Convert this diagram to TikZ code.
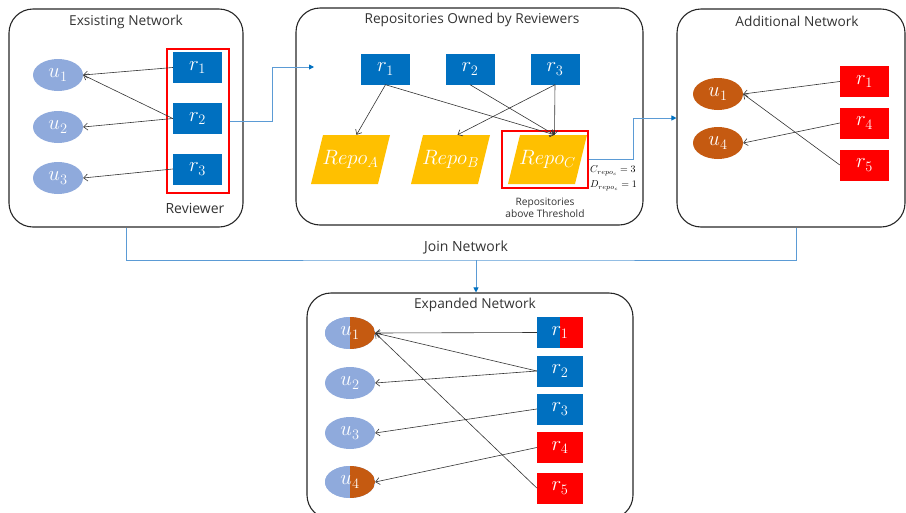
\documentclass[tikz,border=0pt]{standalone}
\usepackage{fontspec}
\setmainfont{Open Sans}
\usetikzlibrary{arrows.meta,shapes.geometric,calc}
\definecolor{rblue}{HTML}{0070C0}
\definecolor{ublue}{HTML}{8FAADC}
\definecolor{ubrown}{HTML}{C55A11}
\definecolor{rred}{HTML}{FF0000}
\definecolor{gold}{HTML}{FFC000}
\definecolor{flowblue}{HTML}{5B9BD5}
\begin{document}
\begin{tikzpicture}[x=1pt,y=-1pt,
  panel/.style={draw=black!85, line width=1.1pt, rounded corners=24pt, inner sep=0},
  ptitle/.style={font=\fontsize{13.7}{16}\selectfont, text=black!80},
  caption/.style={font=\fontsize{14}{16}\selectfont, text=black!80, align=center},
  mlabel/.style={text=white, font=\fontsize{19.5}{22}\selectfont},
  user/.style={ellipse, fill=ublue, minimum width=50, minimum height=32, inner sep=0, mlabel},
  buser/.style={user, fill=ubrown},
  rev/.style={rectangle, fill=rblue, minimum width=49, minimum height=31, inner sep=0, mlabel},
  redrev/.style={rev, fill=rred},
  half/.style 2 args={path picture={
      \fill[#1] (path picture bounding box.south west) rectangle (path picture bounding box.north);
      \fill[#2] (path picture bounding box.south) rectangle (path picture bounding box.north east);}},
  repo/.style={rectangle, minimum width=79, minimum height=49, inner sep=0, mlabel,
      font=\fontsize{20}{22}\selectfont,
      path picture={\fill[gold] (path picture bounding box.south west)
        -- ($(path picture bounding box.south east)+(-12,0)$)
        -- (path picture bounding box.north east)
        -- ($(path picture bounding box.north west)+(12,0)$) -- cycle;}},
  redframe/.style={draw=rred, line width=1.1pt, inner sep=0},
  arr/.style={draw=black!80, line width=0.6pt, -{Straight Barb[length=4pt,width=7pt]}},
  flowline/.style={draw=flowblue, line width=0.9pt},
  flow/.style={flowline, -{Triangle[length=5pt,width=5pt,fill=rblue,color=rblue]}}
]
\useasboundingbox (0,0) rectangle (906,512);

% ---------- Existing network ----------
\node[panel, minimum width=234, minimum height=218] (exbox) at (126,118) {};
\node[ptitle] (t1) at (126,22) {Exsisting Network};
\node[user] (eu1) at (58,75) {$u_1$};
\node[user] (eu2) at (58,127) {$u_2$};
\node[user] (eu3) at (58,178) {$u_3$};
\node[rev] (er1) at (197.5,67.5) {$r_1$};
\node[rev] (er2) at (197.5,118.5) {$r_2$};
\node[rev] (er3) at (197.5,169) {$r_3$};
\node[redframe, minimum width=62, minimum height=144] (revframe) at (198,121) {};
\node[caption] (revlbl) at (195,208) {Reviewer};
\draw[arr] (er1.west) -- (eu1.east);
\draw[arr] (er2.west) -- (eu1.east);
\draw[arr] (er2.west) -- (eu2.east);
\draw[arr] (er3.west) -- (eu3.east);

% ---------- Repositories owned by reviewers ----------
\node[panel, minimum width=347, minimum height=217] (repobox) at (469.5,116.5) {};
\node[ptitle] (t2) at (472,20) {Repositories Owned by Reviewers};
\node[rev] (mr1) at (385.5,69) {$r_1$};
\node[rev] (mr2) at (470,69) {$r_2$};
\node[rev] (mr3) at (555,69) {$r_3$};
\node[repo] (ra) at (350.5,159.5) {$Repo_A$};
\node[repo] (rb) at (450.5,159.5) {$Repo_B$};
\node[repo] (rc) at (547.5,159.5) {$Repo_C$};
\node[redframe, minimum width=86, minimum height=57] (cframe) at (545,159.5) {};
\draw[arr] (mr1.south) -- ($(ra.north)+(6,0)$);
\draw[arr] (mr1.south) -- ($(rc.north)+(7,0)$);
\draw[arr] (mr2.south) -- ($(rc.north)+(7,0)$);
\draw[arr] (mr3.south) -- ($(rb.north)+(7,0)$);
\draw[arr] (mr3.south) -- ($(rc.north)+(7,0)$);
\node[font=\fontsize{10}{11}\selectfont, anchor=west, inner sep=0] (cval) at (590,171) {$C_{repo_c}=3$};
\node[font=\fontsize{10}{11}\selectfont, anchor=west, inner sep=0] (dval) at (590,186) {$D_{repo_c}=1$};
\node[caption, font=\fontsize{10.2}{12}\selectfont] (thr) at (545,208) {Repositories\\above Threshold};

% ---------- Additional network ----------
\node[panel, minimum width=228, minimum height=218] (addbox) at (791,118) {};
\node[ptitle] (t3) at (797,21) {Additional Network};
\node[buser] (au1) at (718,94) {$u_1$};
\node[buser] (au4) at (718,143) {$u_4$};
\node[redrev] (ar1) at (864.5,81.5) {$r_1$};
\node[redrev] (ar4) at (864.5,123) {$r_4$};
\node[redrev] (ar5) at (864.5,165) {$r_5$};
\draw[arr] (ar1.west) -- (au1.east);
\draw[arr] (ar4.west) -- (au4.east);
\draw[arr] (ar5.west) -- (au1.east);

% ---------- Expanded network ----------
\node[panel, minimum width=326, minimum height=226] (expbox) at (470,406) {};
\node[ptitle] (t4) at (475,305) {Expanded Network};
\node[user, half={ublue}{ubrown}] (xu1) at (350,333) {$u_1$};
\node[user] (xu2) at (350,383) {$u_2$};
\node[user] (xu3) at (350,433) {$u_3$};
\node[user, half={ublue}{ubrown}] (xu4) at (350,482) {$u_4$};
\node[rev, minimum width=46, half={rblue}{rred}] (xr1) at (560,332.5) {$r_1$};
\node[rev, minimum width=46] (xr2) at (560,371) {$r_2$};
\node[rev, minimum width=46] (xr3) at (560,409) {$r_3$};
\node[redrev, minimum width=46] (xr4) at (560,447.5) {$r_4$};
\node[redrev, minimum width=46] (xr5) at (560,488) {$r_5$};
\draw[arr] (xr1.west) -- (xu1.east);
\draw[arr] (xr2.west) -- (xu1.east);
\draw[arr] (xr2.west) -- (xu2.east);
\draw[arr] (xr3.west) -- (xu3.east);
\draw[arr] (xr4.west) -- (xu4.east);
\draw[arr] (xr5.west) -- (xu1.east);

% ---------- Flow between panels ----------
\coordinate (reviewin) at (314,67);
\draw[flow] (revframe.east) -- ++(43,0) |- (reviewin);
\draw[flow] (cframe.east) -- ++(45,0) |- (addbox.west);
\coordinate (join) at (476,260);
\draw[flowline] (exbox.south) |- (join) -| ($(addbox.south)+(5,0)$);
\draw[flow] (join) -- (join |- expbox.north);
\node[caption] (joinlbl) at (466,247) {Join Network};
\end{tikzpicture}
\end{document}
